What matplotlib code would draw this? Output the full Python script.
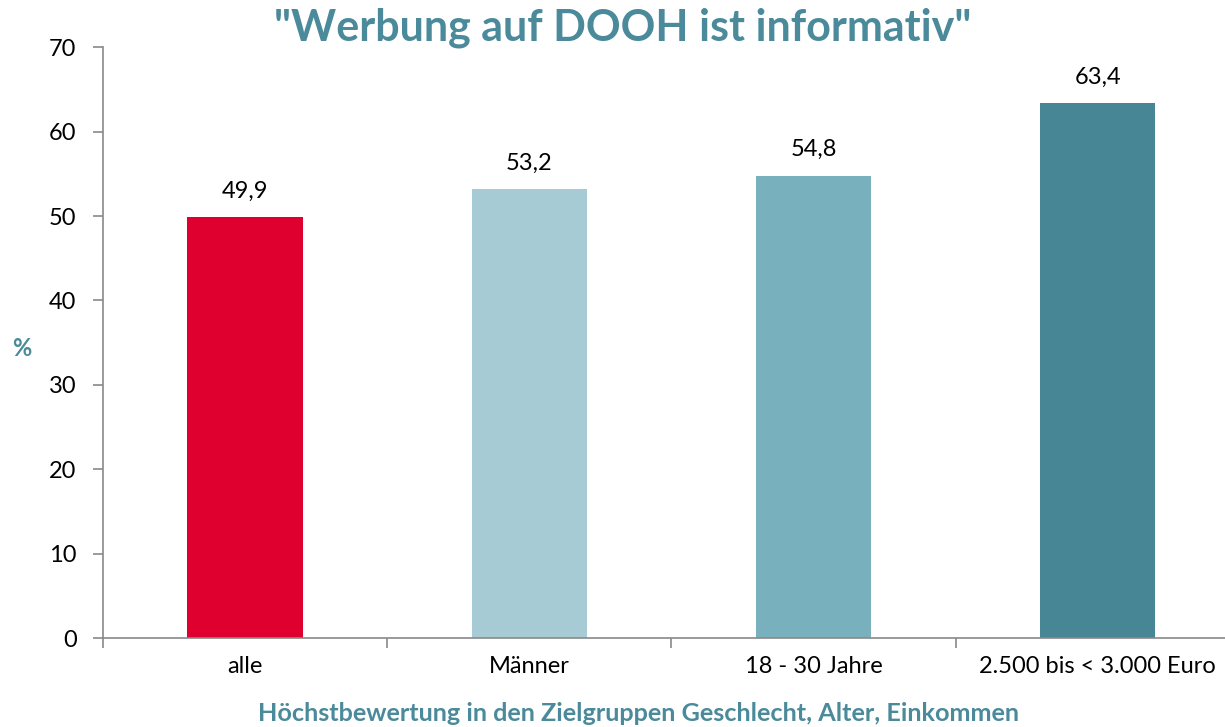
import matplotlib
matplotlib.use('Agg')
from matplotlib import pyplot as plt
import numpy as np

# Daten aus dem Diagramm
kategorien = ['alle', 'Männer', '18 - 30 Jahre', '2.500 bis < 3.000 Euro']
werte = [49.9, 53.2, 54.8, 63.4]
farben = ['#E0002F', '#A7CBD4', '#79B0BE', '#478695']
y_ticks = [0, 10, 20, 30, 40, 50, 60, 70]

teal = '#4A8A9A'
plt.rcParams['font.family'] = ['Lato', 'DejaVu Sans']

fig = plt.figure(figsize=(12.25, 7.27), dpi=100)
# Achse reicht rechts etwas über den Bildrand hinaus (wie im Original)
ax = fig.add_axes([0.084, 0.1224, 0.928, 0.8126])

x = np.arange(len(kategorien))
bars = ax.bar(x, werte, width=0.405, color=farben)

# Datenbeschriftung
for b, v in zip(bars, werte):
	ax.annotate(f'{v:.1f}'.replace('.', ','), (b.get_x() + b.get_width() / 2, v),
				xytext=(0, 11), textcoords='offset points', ha='center', va='bottom', fontsize=17)

ax.set_xlim(-0.5, len(kategorien) - 0.5)
ax.set_ylim(0, 70)
ax.set_yticks(y_ticks)
ax.tick_params(axis='y', labelsize=17, length=7, width=1.2, color='#898989', pad=12)

# x-Ticks an den Kategoriegrenzen
ax.set_xticks(np.arange(-0.5, len(kategorien), 1.0))
ax.set_xticklabels([])
ax.set_xticks(x, minor=True)
ax.set_xticklabels(kategorien, minor=True, fontsize=17)
ax.tick_params(axis='x', which='major', length=7, width=1.2, color='#898989')
ax.tick_params(axis='x', which='minor', length=0, pad=13)

for s in ['top', 'right']:
	ax.spines[s].set_visible(False)
for s in ['left', 'bottom']:
	ax.spines[s].set_color('#898989')
	ax.spines[s].set_linewidth(1.2)

fig.text(0.508, 0.962, '"Werbung auf DOOH ist informativ"', ha='center', va='center',
		 fontsize=31, fontweight='bold', color=teal)
fig.text(0.018, 0.521, '%', ha='center', va='center', fontsize=17, fontweight='bold', color=teal)
fig.text(0.521, 0.018, 'Höchstbewertung in den Zielgruppen Geschlecht, Alter, Einkommen',
		 ha='center', va='center', fontsize=18.2, fontweight='bold', color=teal)

fig.savefig('out.png', dpi=100)
